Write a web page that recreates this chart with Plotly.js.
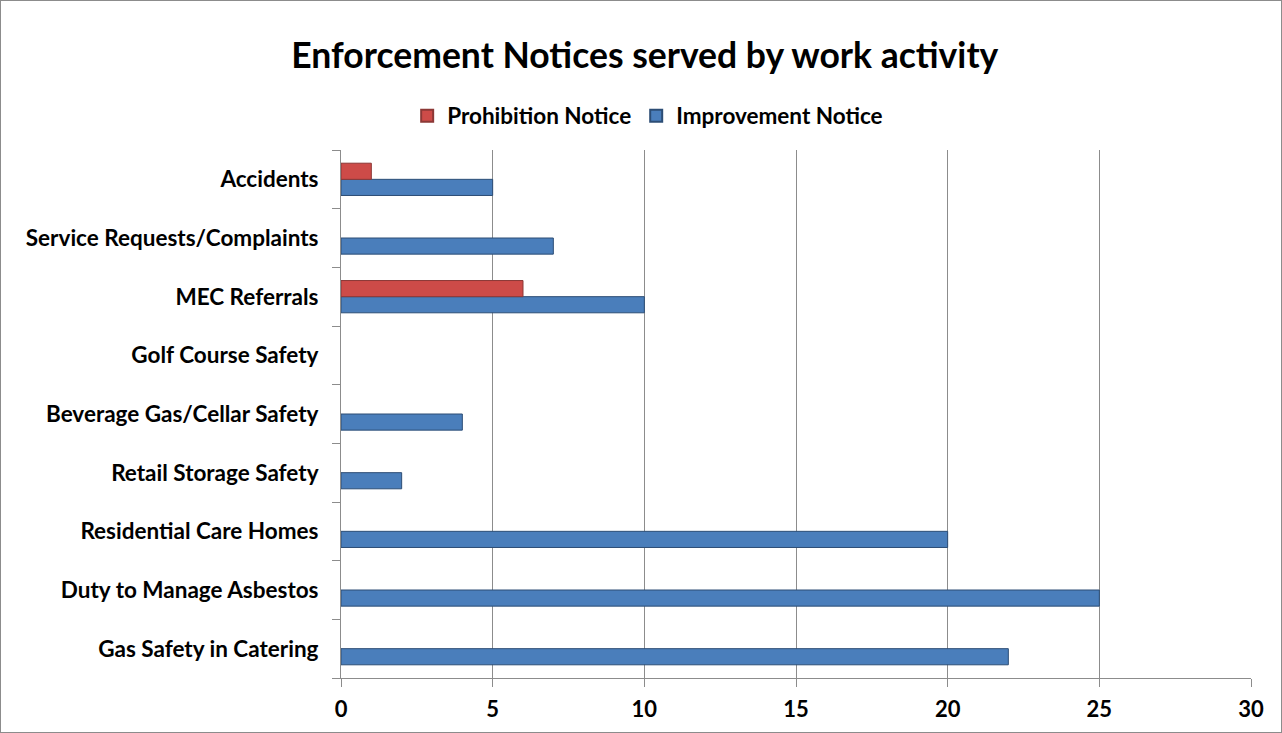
<!DOCTYPE html>
<html><head><meta charset="utf-8">
<script src="https://cdn.plot.ly/plotly-3.0.1.min.js"></script>
<style>
html,body{margin:0;padding:0;background:#fff;}
#wrap{width:1280px;height:731px;border:1px solid #8c8c8c;}
</style>
</head><body>
<div id="wrap"><div id="chart"></div></div>
<script>
const categories = ["Gas Safety in Catering","Duty to Manage Asbestos","Residential Care Homes","Retail Storage Safety","Beverage Gas/Cellar Safety","Golf Course Safety","MEC Referrals","Service Requests/Complaints","Accidents"];
const prohibitionValues = [0,0,0,0,0,0,6,0,1];
const improvementValues = [22,25,20,2,4,0,10,7,5];
const xTickValues = [0,5,10,15,20,25,30];

const fontFam = "Lato, 'Open Sans', sans-serif";
const lineW = vals => vals.map(v => v === 0 ? 0 : 1);
const traces = [
  {type:'bar', orientation:'h', name:'<b>Improvement Notice</b>', y:categories, x:improvementValues,
   marker:{color:'#4a7ebb', line:{color:'#2c4d75', width:lineW(improvementValues)}}},
  {type:'bar', orientation:'h', name:'<b>Prohibition Notice</b>', y:categories, x:prohibitionValues,
   marker:{color:'#cd4b48', line:{color:'#8c3836', width:lineW(prohibitionValues)}}}
];
const layout = {
  width:1280, height:731,
  margin:{l:340, r:30, t:149, b:54},
  paper_bgcolor:'#fff', plot_bgcolor:'#fff',
  font:{family:fontFam, color:'#000'},
  title:{text:'<b>Enforcement Notices served by work activity</b>', font:{size:35.5, family:fontFam, color:'#000'}, x:0.503, xanchor:'center', y:0.925, yanchor:'middle'},
  barmode:'group', bargap:0.45, bargroupgap:0,
  showlegend:true,
  legend:{orientation:'h', traceorder:'reversed', x:0.337, xanchor:'center', y:1.0 + (149-115)/528, yanchor:'middle',
          font:{size:22.5, family:fontFam, color:'#000'}, itemwidth:30, itemsizing:'constant'},
  xaxis:{range:[0,30], tickvals:xTickValues, ticktext:xTickValues.map(v=>'<b>'+v+'</b>'),
         showgrid:true, gridcolor:'#8c8c8c', gridwidth:1, zeroline:false,
         showline:true, linecolor:'#8c8c8c', linewidth:1, ticks:'outside', ticklen:8, tickcolor:'#8c8c8c',
         ticklabelstandoff:4,
         tickfont:{size:22, family:fontFam, color:'#000'}, fixedrange:true},
  yaxis:{type:'category', categoryorder:'array', categoryarray:categories,
         tickvals:categories, ticktext:categories.map(c=>'<b>'+c+'</b>'),
         tickson:'boundaries', ticks:'outside', ticklen:8, tickcolor:'#8c8c8c',
         showline:true, linecolor:'#8c8c8c', linewidth:1, showgrid:false, zeroline:false,
         ticklabelstandoff:17,
         tickfont:{size:22.5, family:fontFam, color:'#000'}, fixedrange:true}
};
Plotly.newPlot('chart', traces, layout, {displayModeBar:false, staticPlot:true});
</script>
</body></html>
